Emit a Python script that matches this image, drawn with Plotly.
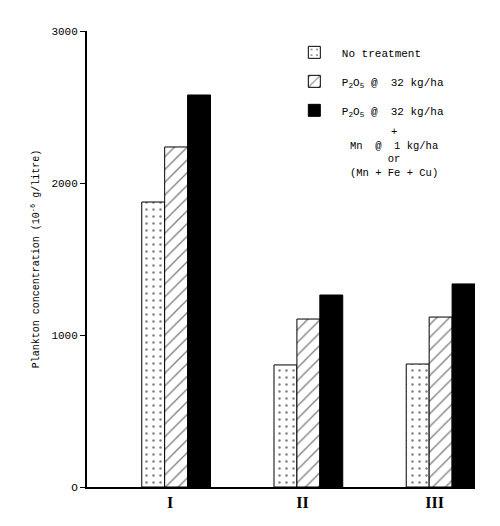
import plotly.graph_objects as go

# ── data ────────────────────────────────────────────────────────────────────
SITES        = ["I", "II", "III"]
NO_TREATMENT = [1875, 803, 809]
P2O5         = [2237, 1105, 1118]
P2O5_MN      = [2579, 1263, 1336]

Y_TICKS  = [0, 1000, 2000, 3000]
Y_LABELS = ["O", "1000", "2000", "3000"]
X_LABELS = ["<b>I</b>", "<b>II</b>", "<b>III</b>"]

MONO = "Liberation Mono"
P2O5_TXT = "P<sub>2</sub>O<sub>5</sub> @  32 kg/ha"
MN_TXT = "+<br>Mn  @  1 kg/ha<br>or<br>(Mn + Fe + Cu)"

# page body adds an 8px offset, so the figure is 8px smaller than the window
W, H = 492, 518

fig = go.Figure()

fig.add_trace(go.Bar(
    x=SITES, y=NO_TREATMENT, name="No treatment", legendgroup="a",
    marker=dict(color="white", line=dict(color="black", width=1),
                pattern=dict(shape=".", fgcolor="black", bgcolor="white",
                             size=7, solidity=0.1)),
))
fig.add_trace(go.Bar(
    x=SITES, y=P2O5, name=P2O5_TXT, legendgroup="b",
    marker=dict(color="white", line=dict(color="black", width=1),
                pattern=dict(shape="/", fgcolor="black", bgcolor="white",
                             size=9, solidity=0.15)),
))
fig.add_trace(go.Bar(
    x=SITES, y=P2O5_MN, name=P2O5_TXT, legendgroup="c",
    marker=dict(color="black", line=dict(color="black", width=1)),
))

fig.add_annotation(
    text=MN_TXT, xref="paper", yref="paper",
    x=0.792, y=0.796, xanchor="center", yanchor="top",
    align="center", showarrow=False,
    font=dict(family=MONO, size=10.5, color="black"),
)

fig.update_layout(
    width=W, height=H,
    margin=dict(l=79, r=25, t=23, b=39),
    plot_bgcolor="white", paper_bgcolor="white",
    barmode="group", bargap=0.48, bargroupgap=0,
    font=dict(family=MONO, size=10, color="black"),
    legend=dict(x=0.515, y=0.985, xanchor="left", yanchor="top",
                bgcolor="rgba(0,0,0,0)", tracegroupgap=10,
                itemwidth=45,
                font=dict(family=MONO, size=11)),
)
fig.update_xaxes(
    type="category", range=[-0.674, 2.26],
    tickvals=SITES, ticktext=X_LABELS,
    showline=True, linecolor="black", linewidth=2,
    showgrid=False, ticks="", automargin=False,
    ticklabelshift=-6,
    tickfont=dict(family="Liberation Serif", size=16, color="black"),
)
fig.update_yaxes(
    range=[0, 3000], tickvals=Y_TICKS, ticktext=Y_LABELS,
    showline=True, linecolor="black", linewidth=2,
    showgrid=False, zeroline=False, automargin=False,
    ticks="outside", ticklen=5, tickcolor="black", tickwidth=1,
    tickfont=dict(family=MONO, size=11),
    title=dict(text="Plankton concentration (10<sup>-6</sup> g/litre)",
               font=dict(family=MONO, size=10), standoff=10),
)

fig.write_html("out.html")
